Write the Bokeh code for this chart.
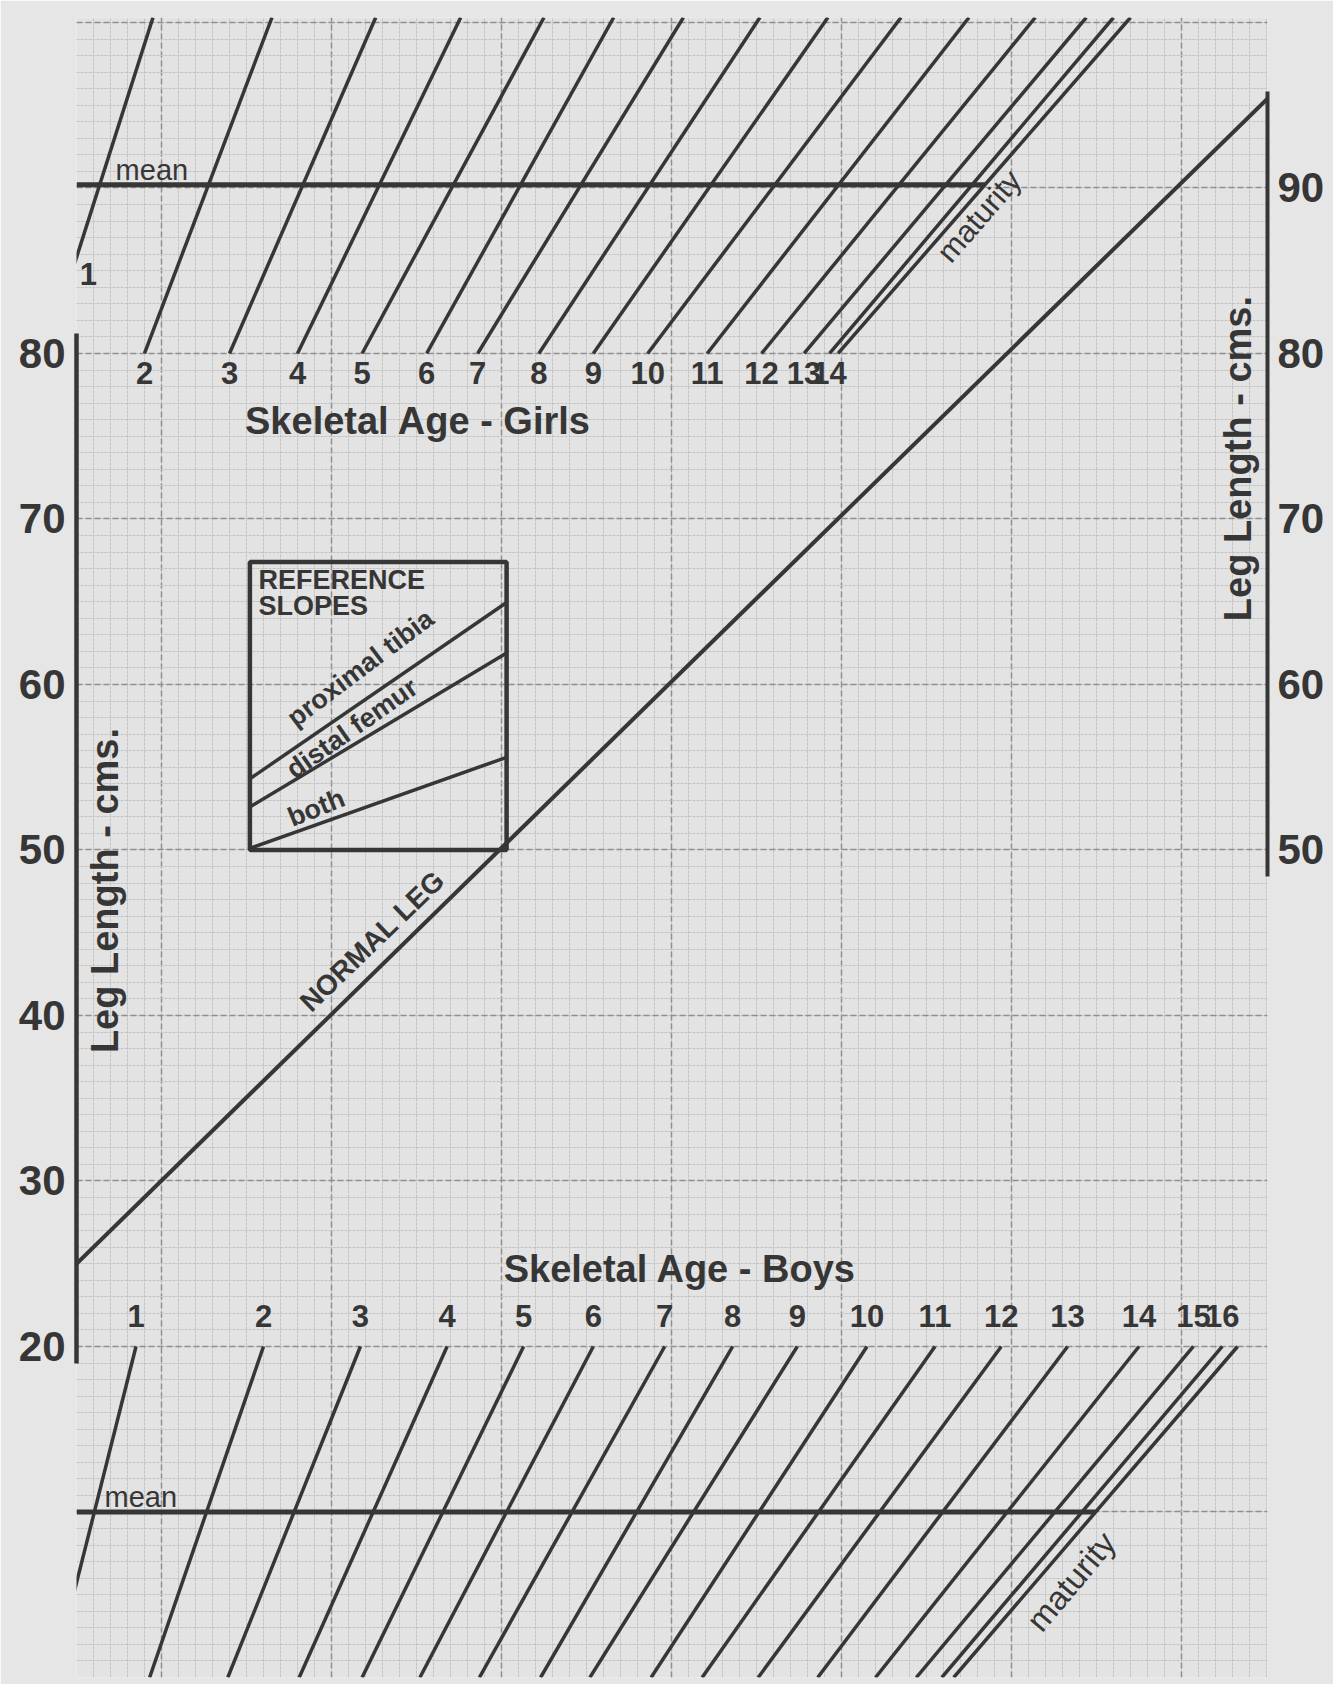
import numpy as np
from bokeh.plotting import figure
from bokeh.models import FixedTicker, LinearAxis, Range1d, Grid
from bokeh.core.properties import value
from bokeh.embed import file_html
from bokeh.resources import INLINE

# ---------------- data ----------------
left_ticks = [20, 30, 40, 50, 60, 70, 80]
right_ticks = [50, 60, 70, 80, 90]

# normal leg reference line (growth units on x, leg length cm on y)
normal_leg_x = [0.0, 70.06]
normal_leg_y = [25.0, 95.4]

# girls skeletal-age lines: x where each line meets the 80 cm level and the top edge
girls_ages = ["1", "2", "3", "4", "5", "6", "7", "8", "9", "10", "11", "12", "13", "14"]
girls_x_low = [-1.8, 4.0, 9.0, 13.0, 16.8, 20.6, 23.6, 27.2, 30.4, 33.6, 37.1, 40.3, 42.8, 44.3, 44.8]
girls_x_high = [4.5, 11.5, 17.6, 22.6, 27.5, 31.6, 35.7, 40.2, 44.2, 48.5, 52.5, 56.4, 59.4, 61.0, 62.0]
girls_mean_level = 90.2

# boys skeletal-age lines: x where each line meets the 20 cm level and the bottom edge
boys_ages = ["1", "2", "3", "4", "5", "6", "7", "8", "9", "10", "11", "12", "13", "14", "15", "16"]
boys_x_high = [3.5, 11.0, 16.7, 21.8, 26.3, 30.4, 34.6, 38.6, 42.4, 46.5, 50.5, 54.4, 58.3, 62.5, 65.7, 67.4, 68.3]
boys_x_low = [-1.4, 4.3, 8.9, 13.1, 16.8, 20.2, 23.7, 27.3, 30.2, 33.8, 36.8, 40.1, 43.6, 47.0, 49.4, 50.9, 51.6]
boys_mean_level = 10.0

# reference slopes inset
ref_slope_names = ["proximal tibia", "distal femur", "both"]
ref_slope_left_y = [54.3, 52.6, 50.1]
ref_slope_right_y = [64.95, 61.9, 55.6]

# ---------------- layout / style ----------------
X_MAX = 70.06
Y_MIN, Y_MAX = 0.0, 100.3
GIRLS_BASE, GIRLS_TOP = 80.0, Y_MAX
BOYS_BASE, BOYS_BOTTOM = 20.0, Y_MIN
BOX_L, BOX_R, BOX_B, BOX_T = 10.2, 25.3, 50.0, 67.4

INK = "#363636"
FONT = "Liberation Sans"
PAPER = "#e3e3e3"

p = figure(frame_width=1191, frame_height=1660,
           x_range=Range1d(0, X_MAX), y_range=Range1d(Y_MIN, Y_MAX),
           x_axis_location=None, y_axis_location="left",
           output_backend="svg", toolbar_location=None, title=None,
           min_border_left=76, min_border_right=66,
           min_border_top=17, min_border_bottom=7)
p.background_fill_color = PAPER
p.border_fill_color = "#e6e6e6"
p.outline_line_color = None

for g in p.grid:
    g.visible = False

xg = Grid(dimension=0,
          ticker=FixedTicker(ticks=list(range(5, 70, 10)), minor_ticks=list(range(0, 71))),
          grid_line_color="#8f8f8f", grid_line_width=1.5, grid_line_dash="6 3",
          minor_grid_line_color="#c3c3c3", minor_grid_line_width=1, minor_grid_line_dash="3 1")
yg = Grid(dimension=1,
          ticker=FixedTicker(ticks=list(range(0, 101, 10)), minor_ticks=list(range(0, 101))),
          grid_line_color="#8f8f8f", grid_line_width=1.5, grid_line_dash="6 3",
          minor_grid_line_color="#c3c3c3", minor_grid_line_width=1, minor_grid_line_dash="3 1")
p.add_layout(xg, "center")
p.add_layout(yg, "center")

# left axis
ax = p.yaxis[0]
ax.ticker = FixedTicker(ticks=left_ticks)
ax.bounds = (19.0, 81.2)
ax.axis_line_width = 4.5
ax.axis_line_color = INK
ax.major_tick_line_color = None
ax.minor_tick_line_color = None
ax.major_tick_out = 0
ax.major_tick_in = 0
ax.minor_tick_out = 0
ax.major_label_standoff = 11
ax.major_label_text_font = FONT
ax.major_label_text_font_style = "bold"
ax.major_label_text_font_size = "42px"
ax.major_label_text_color = INK

# right axis
rax = LinearAxis(ticker=FixedTicker(ticks=right_ticks), bounds=(48.4, 95.8),
                 axis_line_width=4, axis_line_color=INK,
                 major_tick_line_color=None, minor_tick_line_color=None,
                 major_tick_out=0, major_tick_in=0, minor_tick_out=0,
                 major_label_standoff=10, major_label_text_font=FONT,
                 major_label_text_font_style="bold", major_label_text_font_size="42px",
                 major_label_text_color=INK)
p.add_layout(rax, "right")

# normal leg
p.line(normal_leg_x, normal_leg_y, line_color=INK, line_width=4)

# girls nomogram
p.segment(x0=girls_x_low, y0=[GIRLS_BASE] * len(girls_x_low),
          x1=girls_x_high, y1=[GIRLS_TOP] * len(girls_x_high),
          line_color=INK, line_width=3.5)
g_mat_end = girls_x_low[-1] + (girls_x_high[-1] - girls_x_low[-1]) * (girls_mean_level - GIRLS_BASE) / (GIRLS_TOP - GIRLS_BASE)
p.segment(x0=[0], y0=[girls_mean_level], x1=[g_mat_end], y1=[girls_mean_level], line_color=INK, line_width=5)

g_lab_x = list(girls_x_low[1:len(girls_ages)])
g_lab_y = [78.85] * len(g_lab_x)
# age 1 line meets the axis: label sits just under that point
y_cross = GIRLS_BASE + (0 - girls_x_low[0]) / (girls_x_high[0] - girls_x_low[0]) * (GIRLS_TOP - GIRLS_BASE)
g_lab_x = [0.7] + g_lab_x
g_lab_y = [y_cross - 1.0] + g_lab_y
p.text(x=g_lab_x, y=g_lab_y, text=girls_ages, text_align="center", text_baseline="middle",
       text_font=value(FONT), text_font_size="31px", text_font_style="bold", text_color=INK)

# boys nomogram
p.segment(x0=boys_x_high, y0=[BOYS_BASE] * len(boys_x_high),
          x1=boys_x_low, y1=[BOYS_BOTTOM] * len(boys_x_low),
          line_color=INK, line_width=3.5)
b_mat_end = boys_x_low[-1] + (boys_x_high[-1] - boys_x_low[-1]) * (boys_mean_level - BOYS_BOTTOM) / (BOYS_BASE - BOYS_BOTTOM)
p.segment(x0=[0], y0=[boys_mean_level], x1=[b_mat_end], y1=[boys_mean_level], line_color=INK, line_width=5)
p.text(x=boys_x_high[:len(boys_ages)], y=[21.85] * len(boys_ages), text=boys_ages,
       text_align="center", text_baseline="middle",
       text_font=value(FONT), text_font_size="31px", text_font_style="bold", text_color=INK)

# plain texts
def txt(x, y, s, size, style="normal", angle=0.0, align="left", baseline="middle"):
    p.text(x=[x], y=[y], text=[s], angle=angle, text_align=align, text_baseline=baseline,
           text_font=value(FONT), text_font_size=size, text_font_style=style, text_color=INK)

txt(2.3, 91.1, "mean", "29px")
txt(1.65, 10.9, "mean", "29px")
txt(53.1, 88.3, "maturity", "31px", angle=np.radians(49), align="center")
txt(58.5, 5.8, "maturity", "33px", angle=np.radians(50), align="center")
txt(20.1, 75.9, "Skeletal Age - Girls", "38px", "bold", align="center")
txt(35.5, 24.68, "Skeletal Age - Boys", "38px", "bold", align="center")
txt(1.7, 47.55, "Leg Length - cms.", "38px", "bold", angle=np.pi / 2, align="center")
txt(68.3, 73.65, "Leg Length - cms.", "38px", "bold", angle=np.pi / 2, align="center")
txt(17.4, 44.5, "NORMAL LEG", "28px", "bold", angle=np.radians(44), align="center")

# reference slopes inset
p.quad(left=[BOX_L], right=[BOX_R], bottom=[BOX_B], top=[BOX_T],
       fill_color=None, line_color=INK, line_width=4.5)
p.segment(x0=[BOX_L] * 3, y0=ref_slope_left_y, x1=[BOX_R] * 3, y1=ref_slope_right_y,
          line_color=INK, line_width=3.5)
txt(10.7, 66.3, "REFERENCE", "27px", "bold")
txt(10.7, 64.75, "SLOPES", "27px", "bold")
txt(16.7, 61.0, ref_slope_names[0], "27px", "bold", angle=np.radians(37), align="center")
txt(16.2, 57.35, ref_slope_names[1], "27px", "bold", angle=np.radians(35), align="center")
txt(14.1, 52.55, ref_slope_names[2], "27px", "bold", angle=np.radians(22), align="center")

open("out.html", "w").write(file_html(p, INLINE))
